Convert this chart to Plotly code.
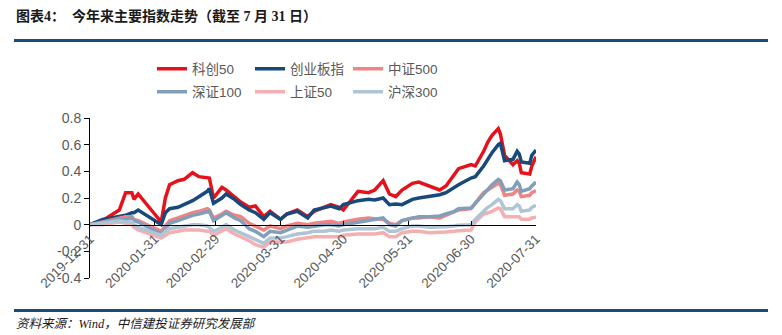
import plotly.graph_objects as go

# Trading dates sampled across 2020 (cumulative return since 2019-12-31)
dates = [
    "2019-12-31", "2020-01-06", "2020-01-10", "2020-01-14", "2020-01-17", "2020-01-20",
    "2020-01-21", "2020-01-23", "2020-02-03", "2020-02-05", "2020-02-07", "2020-02-11",
    "2020-02-14", "2020-02-18", "2020-02-21", "2020-02-25", "2020-02-26", "2020-02-28",
    "2020-03-03", "2020-03-05", "2020-03-09", "2020-03-12", "2020-03-16", "2020-03-19",
    "2020-03-23", "2020-03-26", "2020-03-31", "2020-04-03", "2020-04-08", "2020-04-13",
    "2020-04-16", "2020-04-21", "2020-04-24", "2020-04-28", "2020-04-30", "2020-05-07",
    "2020-05-12", "2020-05-15", "2020-05-19", "2020-05-22", "2020-05-25", "2020-05-28",
    "2020-06-02", "2020-06-05", "2020-06-10", "2020-06-15", "2020-06-18", "2020-06-22",
    "2020-06-24", "2020-06-30", "2020-07-02", "2020-07-06", "2020-07-08", "2020-07-10",
    "2020-07-13", "2020-07-14", "2020-07-16", "2020-07-20", "2020-07-22", "2020-07-23",
    "2020-07-24", "2020-07-28", "2020-07-29", "2020-07-31",
]

kc50 = [
    0.00, 0.03, 0.07, 0.11, 0.24, 0.24, 0.19, 0.23, 0.02, 0.20, 0.30, 0.33,
    0.34, 0.39, 0.36, 0.35, 0.35, 0.20, 0.28, 0.26, 0.21, 0.17, 0.13, 0.14,
    0.06, 0.10, 0.04, 0.08, 0.11, 0.06, 0.10, 0.13, 0.15, 0.13, 0.11, 0.25,
    0.24, 0.26, 0.33, 0.23, 0.21, 0.26, 0.31, 0.32, 0.29, 0.26, 0.29, 0.37,
    0.42, 0.45, 0.44, 0.55, 0.62, 0.67, 0.72, 0.68, 0.52, 0.45, 0.48, 0.46,
    0.39, 0.38, 0.44, 0.51,
]

cyb = [
    0.00, 0.04, 0.05, 0.06, 0.07, 0.09, 0.09, 0.11, 0.00, 0.09, 0.12, 0.13,
    0.15, 0.18, 0.21, 0.25, 0.27, 0.16, 0.20, 0.23, 0.19, 0.15, 0.11, 0.09,
    0.04, 0.09, 0.04, 0.08, 0.10, 0.05, 0.11, 0.13, 0.14, 0.12, 0.15, 0.18,
    0.19, 0.185, 0.20, 0.15, 0.155, 0.15, 0.19, 0.20, 0.21, 0.225, 0.24, 0.28,
    0.30, 0.35, 0.36, 0.44, 0.49, 0.54, 0.60, 0.61, 0.48, 0.49, 0.55, 0.53,
    0.47, 0.46, 0.52, 0.56,
]

zz500 = [
    0.00, 0.02, 0.04, 0.05, 0.06, 0.06, 0.04, 0.03, -0.05, -0.01, 0.03, 0.05,
    0.07, 0.09, 0.10, 0.12, 0.11, 0.05, 0.08, 0.10, 0.07, 0.06, 0.01, -0.01,
    -0.04, -0.01, -0.03, -0.01, 0.01, 0.00, 0.01, 0.02, 0.025, 0.01, 0.02, 0.04,
    0.05, 0.045, 0.04, 0.01, 0.00, 0.03, 0.05, 0.05, 0.06, 0.05, 0.07, 0.09,
    0.11, 0.12, 0.16, 0.24, 0.26, 0.28, 0.31, 0.30, 0.22, 0.23, 0.26, 0.25,
    0.21, 0.22, 0.24, 0.255,
]

sz100 = [
    0.00, 0.02, 0.03, 0.04, 0.04, 0.05, 0.03, 0.02, -0.07, -0.03, 0.01, 0.03,
    0.05, 0.07, 0.08, 0.10, 0.10, 0.03, 0.07, 0.09, 0.05, 0.03, -0.03, -0.05,
    -0.09, -0.05, -0.06, -0.04, -0.01, -0.02, -0.01, 0.00, 0.00, -0.01, 0.00, 0.02,
    0.03, 0.04, 0.05, 0.00, -0.01, 0.03, 0.05, 0.06, 0.06, 0.065, 0.08, 0.10,
    0.12, 0.125, 0.16, 0.23, 0.27, 0.30, 0.34, 0.33, 0.26, 0.27, 0.32, 0.30,
    0.25, 0.27, 0.29, 0.32,
]

sz50 = [
    0.00, 0.00, 0.01, 0.02, 0.01, 0.00, -0.02, -0.04, -0.10, -0.08, -0.06, -0.05,
    -0.04, -0.04, -0.04, -0.05, -0.05, -0.08, -0.05, -0.03, -0.07, -0.09, -0.12, -0.15,
    -0.17, -0.13, -0.13, -0.13, -0.11, -0.10, -0.09, -0.09, -0.09, -0.09, -0.08, -0.07,
    -0.07, -0.07, -0.06, -0.09, -0.09, -0.06, -0.05, -0.05, -0.06, -0.06, -0.055, -0.05,
    -0.045, -0.04, 0.02, 0.08, 0.09, 0.10, 0.125, 0.12, 0.06, 0.06, 0.065, 0.06,
    0.04, 0.04, 0.05, 0.055,
]

hs300 = [
    0.00, 0.01, 0.02, 0.03, 0.02, 0.02, 0.00, -0.02, -0.08, -0.05, -0.03, -0.02,
    -0.01, 0.00, 0.00, -0.01, -0.02, -0.05, -0.02, 0.00, -0.04, -0.06, -0.09, -0.11,
    -0.14, -0.10, -0.10, -0.09, -0.07, -0.06, -0.05, -0.05, -0.04, -0.05, -0.04, -0.03,
    -0.03, -0.03, -0.02, -0.05, -0.05, -0.03, -0.01, -0.01, -0.02, -0.02, -0.015, -0.01,
    -0.005, 0.00, 0.04, 0.10, 0.13, 0.15, 0.19, 0.18, 0.12, 0.12, 0.15, 0.14,
    0.10, 0.11, 0.13, 0.145,
]

series_names = ["科创50", "创业板指", "中证500", "深证100", "上证50", "沪深300"]
series_values = [kc50, cyb, zz500, sz100, sz50, hs300]
series_colors = ["#E5121B", "#17497A", "#EE8484", "#819FBB", "#F5AFB1", "#AFC4D4"]

x_tick_dates = ["2019-12-31", "2020-01-31", "2020-02-29", "2020-03-31",
                "2020-04-30", "2020-05-31", "2020-06-30", "2020-07-31"]
y_tick_vals = [-0.4, -0.2, 0, 0.2, 0.4, 0.6, 0.8]
y_tick_text = ["-0.4", "-0.2", "0", "0.2", "0.4", "0.6", "0.8"]

title_text = "<b>图表4：\u00a0\u00a0今年来主要指数走势（截至 7 月 31 日）</b>"
source_text = "<i>资料来源：Wind，中信建投证券研究发展部</i>"

# ---- layout geometry (pixels) ----
W, H = 782, 335
L, R, T, B = 90, 246, 118, 57
PW, PH = W - L - R, H - T - B


def fx(px):
    return (px - L) / PW


def fy(py):
    return (H - B - py) / PH


LATIN_CJK = "Liberation Sans, Arial, Noto Sans CJK SC, sans-serif"
GREY = "#595959"
RULE = "#1B4A72"

fig = go.Figure()
for i, (name, vals, col) in enumerate(zip(series_names, series_values, series_colors)):
    fig.add_trace(go.Scatter(
        x=dates, y=vals, name=name, mode="lines",
        line=dict(color=col, width=3.5),
        legend="legend" if i < 3 else "legend2",
    ))

legend_common = dict(
    orientation="h", xanchor="left", yanchor="middle",
    font=dict(family=LATIN_CJK, size=13.5, color=GREY),
    bgcolor="rgba(0,0,0,0)", entrywidth=53, entrywidthmode="pixels",
    itemwidth=30, tracegroupgap=0,
)

fig.update_layout(
    width=W, height=H,
    margin=dict(l=L, r=R, t=T, b=B, autoexpand=False),
    paper_bgcolor="white", plot_bgcolor="white",
    showlegend=True,
    legend=dict(x=fx(152), y=fy(69), **legend_common),
    legend2=dict(x=fx(152), y=fy(92), **legend_common),
    xaxis=dict(
        type="date", range=["2019-12-31", "2020-07-31"],
        anchor="free", position=1 / 3,
        showgrid=False, zeroline=False,
        showline=True, linecolor="black", linewidth=1,
        ticks="inside", ticklen=4, tickcolor="black",
        tickvals=x_tick_dates, ticktext=x_tick_dates, tickangle=-45,
        tickfont=dict(family=LATIN_CJK, size=13.5, color=GREY),
        automargin=False,
    ),
    yaxis=dict(
        range=[-0.4, 0.8], showgrid=False, zeroline=False,
        showline=True, linecolor="black", linewidth=1,
        ticks="outside", ticklen=5, tickcolor="black",
        tickvals=y_tick_vals, ticktext=y_tick_text,
        tickfont=dict(family=LATIN_CJK, size=14, color=GREY),
        automargin=False,
    ),
    shapes=[
        dict(type="line", xref="paper", yref="paper",
             x0=fx(14), x1=fx(768), y0=fy(40.5), y1=fy(40.5),
             line=dict(color=RULE, width=3)),
        dict(type="line", xref="paper", yref="paper",
             x0=fx(14), x1=fx(768), y0=fy(310.5), y1=fy(310.5),
             line=dict(color=RULE, width=3)),
    ],
    annotations=[
        dict(text=title_text, xref="paper", yref="paper",
             x=fx(14), y=fy(16), xanchor="left", yanchor="middle",
             showarrow=False,
             font=dict(family="Liberation Serif, Noto Sans CJK SC, serif", size=14, color="#1A1A1A")),
        dict(text=source_text, xref="paper", yref="paper",
             x=fx(14), y=fy(324), xanchor="left", yanchor="middle",
             showarrow=False,
             font=dict(family="Liberation Serif, Noto Sans CJK SC, serif", size=12.5, color="#1A1A1A")),
    ],
)

fig.write_html("out.html")
